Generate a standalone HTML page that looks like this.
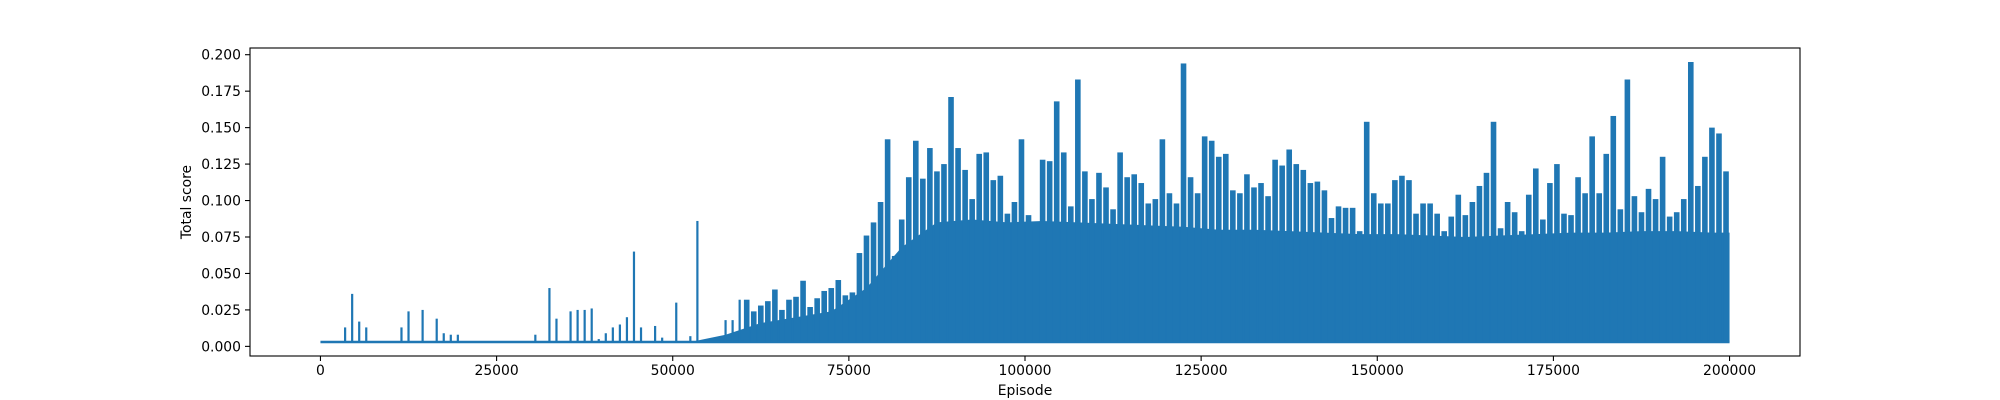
<!DOCTYPE html>
<html><head><meta charset="utf-8"><style>
html,body{margin:0;padding:0;background:#fff;}
svg{display:block;font-family:"DejaVu Sans","Liberation Sans",sans-serif;}
</style></head><body>
<svg id="chart" width="2000" height="400" viewBox="0 0 2000 400" xmlns="http://www.w3.org/2000/svg">
<rect x="0" y="0" width="2000" height="400" fill="#fff"/>
<g id="plot"></g>
<g id="axes"></g>
</svg>
<script>
const xTicks = [0,25000,50000,75000,100000,125000,150000,175000,200000];
const xTickLabels = ["0","25000","50000","75000","100000","125000","150000","175000","200000"];
const yTicks = [0,0.025,0.05,0.075,0.1,0.125,0.15,0.175,0.2];
const yTickLabels = ["0.000","0.025","0.050","0.075","0.100","0.125","0.150","0.175","0.200"];
const binSize = 1000;
const baseline = 0.003;
const peaks = [
.003,.003,.003,.013,.036,.017,.013,.003,.003,.003,
.003,.013,.024,.003,.025,.003,.019,.009,.008,.008,
.003,.003,.003,.003,.003,.003,.003,.003,.003,.003,
.008,.003,.040,.019,.003,.024,.025,.025,.026,.005,
.009,.013,.015,.020,.065,.013,.003,.014,.006,.003,
.030,.003,.007,.086,.003,.003,.003,.018,.018,.032,
.032,.024,.028,.031,.039,.025,.032,.034,.045,.027,
.033,.038,.040,.0455,.035,.037,.064,.076,.085,.099,
.142,.062,.087,.116,.141,.115,.136,.120,.125,.171,
.136,.121,.101,.132,.133,.114,.117,.091,.099,.142,
.090,.082,.128,.127,.168,.133,.096,.183,.120,.101,
.119,.109,.094,.133,.116,.118,.112,.098,.101,.142,
.105,.098,.194,.116,.105,.144,.141,.130,.132,.107,
.105,.118,.109,.112,.103,.128,.124,.135,.125,.121,
.112,.113,.107,.088,.096,.095,.095,.079,.154,.105,
.098,.098,.114,.117,.114,.091,.098,.098,.091,.079,
.089,.104,.090,.099,.110,.119,.154,.081,.099,.092,
.079,.104,.122,.087,.112,.125,.091,.090,.116,.105,
.144,.105,.132,.158,.094,.183,.103,.092,.108,.101,
.130,.089,.092,.101,.195,.110,.130,.150,.146,.120
];
const bodySize = 5000;
const body = [
.003,.003,.003,.003,.003,.003,.003,.003,.003,.003,
.003,.008,.016,.020,.024,.040,.068,.085,.087,.085,
.086,.085,.084,.083,.082,.080,.080,.079,.078,.077,
.077,.076,.075,.076,.077,.078,.078,.079,.079,.078
];

const L=250,R=1800,T=48,B=356;
const xMin=-10000,xMax=210000,yMin=-0.0066,yMax=0.2046;
const xs=v=>L+(v-xMin)/(xMax-xMin)*(R-L);
const ys=v=>B-(v-yMin)/(yMax-yMin)*(B-T);
const NS="http://www.w3.org/2000/svg";
const plot=document.getElementById('plot');
const axes=document.getElementById('axes');
const C="#1f77b4";
function mk(tag,attrs,parent){const e=document.createElementNS(NS,tag);for(const k in attrs)e.setAttribute(k,attrs[k]);parent.appendChild(e);return e;}

// body area (smooth polyline through block centres)
let d="M"+xs(0)+","+ys(baseline);
body.forEach((v,i)=>{const xc=xs(i*bodySize+bodySize/2);d+=" L"+xc+","+ys(v);});
d+=" L"+xs(200000)+","+ys(body[body.length-1])+" L"+xs(200000)+","+ys(baseline)+" Z";
const area=mk('path',{d:d,fill:C},plot);



// baseline line
const bl=mk('line',{x1:xs(0),x2:xs(200000),y1:ys(baseline),y2:ys(baseline),stroke:C,'stroke-width':2.5},plot);



// spikes
peaks.forEach((v,i)=>{
  if(v<=baseline) return;
  const xc=xs(i*binSize+binSize/2);
  const w=(i>=60)?5.6:2.2;
  const r=mk('rect',{x:xc-w/2,y:ys(v),width:w,height:ys(baseline)-ys(v),fill:C},plot);
  
  
});

// frame
const fr=mk('rect',{x:L,y:T,width:R-L,height:B-T,fill:"none",stroke:"#000","stroke-width":1.1},axes);



xTicks.forEach((v,i)=>{
  const x=xs(v);
  const t=mk('line',{x1:x,x2:x,y1:B,y2:B+5,stroke:"#000","stroke-width":1.1},axes);
  
  
  const tx=mk('text',{x:x,y:B+19,'text-anchor':'middle','font-size':'13.9',fill:'#000'},axes);
  tx.textContent=xTickLabels[i];
  
  
});
yTicks.forEach((v,i)=>{
  const y=ys(v);
  const t=mk('line',{x1:L-5,x2:L,y1:y,y2:y,stroke:"#000","stroke-width":1.1},axes);
  
  
  const tx=mk('text',{x:L-9,y:y+5,'text-anchor':'end','font-size':'13.9',fill:'#000'},axes);
  tx.textContent=yTickLabels[i];
  
  
});
const xl=mk('text',{x:(L+R)/2,y:395,'text-anchor':'middle','font-size':'13.9',fill:'#000'},axes);
xl.textContent="Episode";


const yl=mk('text',{x:0,y:0,'text-anchor':'middle','font-size':'13.9',fill:'#000',transform:"translate(191,"+((T+B)/2)+") rotate(-90)"},axes);
yl.textContent="Total score";


</script>
</body></html>
